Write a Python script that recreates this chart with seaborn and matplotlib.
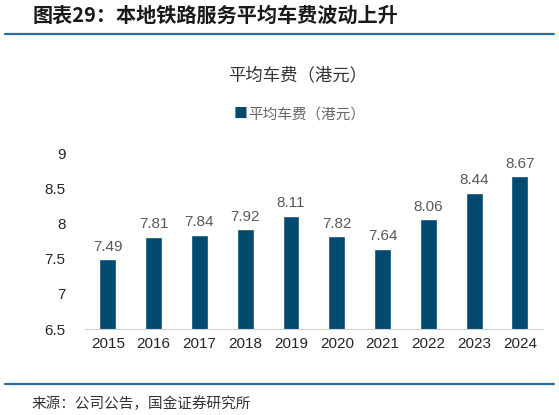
import pandas as pd
import seaborn as sns
import matplotlib
matplotlib.use('Agg')
import matplotlib.pyplot as plt
from matplotlib.lines import Line2D

sns.set_style("white")
plt.rcParams['font.family'] = ['Noto Sans CJK SC', 'DejaVu Sans']

years = ['2015', '2016', '2017', '2018', '2019', '2020', '2021', '2022', '2023', '2024']
fares = [7.49, 7.81, 7.84, 7.92, 8.11, 7.82, 7.64, 8.06, 8.44, 8.67]
yticks = [6.5, 7, 7.5, 8, 8.5, 9]
ytick_labels = ['6.5', '7', '7.5', '8', '8.5', '9']

bar_color = '#024a70'
line_color = '#2d6e99'

df = pd.DataFrame({'year': years, 'fare': fares})

fig = plt.figure(figsize=(5.59, 4.15), dpi=100)
ax = fig.add_axes([0.152, 0.207, 0.819, 0.424])

sns.barplot(data=df, x='year', y='fare', color=bar_color, width=0.37,
            saturation=1, ax=ax)

ax.set_ylim(6.5, 9)
ax.set_xlim(-0.5, len(years) - 0.5)
ax.set_yticks(yticks)
ax.set_yticklabels(ytick_labels, family='Liberation Sans', fontsize=11)
ax.set_xticks(range(len(years)))
ax.set_xticklabels(years, family='Liberation Sans', fontsize=11)
ax.tick_params(axis='both', length=0, pad=6)
ax.tick_params(axis='y', pad=14)
ax.set_xticks([i - 0.5 for i in range(len(years) + 1)], minor=True)
ax.tick_params(axis='x', which='minor', direction='in', length=4, color='#d0d0d0')
ax.set_xlabel('')
ax.set_ylabel('')
for s in ['top', 'right', 'left']:
    ax.spines[s].set_visible(False)
ax.spines['bottom'].set_color('#d0d0d0')

for i, v in enumerate(fares):
    ax.text(i, v + 0.08, f'{v:.2f}', ha='center', va='bottom',
            fontsize=11, color='#595959', family='Liberation Sans')

# header / footer
fig.text(0.059, 0.964, '图表29：本地铁路服务平均车费波动上升', fontsize=14.5,
         fontweight='bold', style='italic', color='#1a1a1a', va='center')
fig.add_artist(Line2D([0.009, 0.991], [0.918, 0.918], color=line_color, lw=1.6))
fig.text(0.532, 0.819, '平均车费（港元）', fontsize=12.5, color='#333333',
         ha='center', va='center')
fig.text(0.431, 0.725, '■', fontsize=10, color=bar_color, ha='center', va='center')
fig.text(0.548, 0.725, '平均车费（港元）', fontsize=10.5, color='#666666',
         ha='center', va='center')
fig.add_artist(Line2D([0.009, 0.991], [0.075, 0.075], color=line_color, lw=1.6))
fig.text(0.057, 0.028, '来源：公司公告，国金证券研究所', fontsize=10.5,
         color='#333333', va='center')

fig.savefig('out.png', dpi=100)
plt.close()
